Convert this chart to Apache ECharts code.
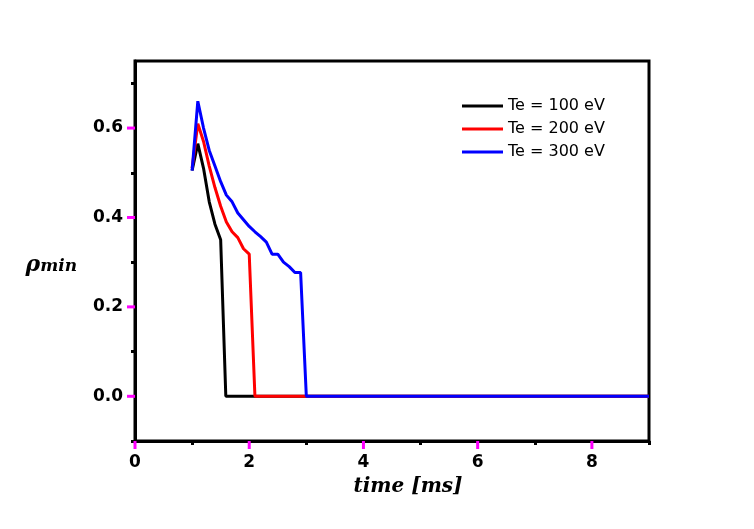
<!DOCTYPE html>
<html><head><meta charset="utf-8">
<script src="https://cdn.jsdelivr.net/npm/echarts@6/dist/echarts.min.js"></script>
<style>html,body{margin:0;padding:0;background:#fff}#c{width:754px;height:529px}</style>
</head><body><div id="c"></div>
<script>
const seriesNames = ['Te = 100 eV', 'Te = 200 eV', 'Te = 300 eV'];
const time100 = [1.0, 1.1, 1.2, 1.3, 1.4, 1.5, 1.59, 9.0];
const rho100  = [0.505, 0.565, 0.51, 0.435, 0.385, 0.35, 0.0, 0.0];
const time200 = [1.0, 1.1, 1.2, 1.3, 1.4, 1.5, 1.6, 1.7, 1.8, 1.9, 2.0, 2.1, 9.0];
const rho200  = [0.51, 0.61, 0.57, 0.515, 0.467, 0.425, 0.39, 0.368, 0.355, 0.33, 0.318, 0.0, 0.0];
const time300 = [1.0, 1.1, 1.2, 1.3, 1.4, 1.5, 1.6, 1.7, 1.8, 1.9, 2.0, 2.1, 2.2, 2.3, 2.4, 2.5, 2.6, 2.7, 2.8, 2.9, 3.0, 9.0];
const rho300  = [0.505, 0.66, 0.60, 0.55, 0.515, 0.48, 0.45, 0.435, 0.41, 0.395, 0.38, 0.368, 0.357, 0.345, 0.318, 0.318, 0.30, 0.29, 0.277, 0.277, 0.0, 0.0];
const xMajorTicks = [0, 2, 4, 6, 8];
const xMinorTicks = [1, 3, 5, 7, 9];
const yMajorTicks = [0, 0.2, 0.4, 0.6];
const yMinorTicks = [-0.1, 0.1, 0.3, 0.5, 0.7];
const colors = ['#000000', '#ff0000', '#0000ff'];

const zip = (xs, ys) => xs.map((x, i) => [x, ys[i]]);
const gridRect = {left: 135, right: 105, top: 61, bottom: 88};
const X_MIN = 0, X_MAX = 9, Y_MIN = -0.1, Y_MAX = 0.75;
const tick = () => ({color: '#000', width: 3});
const labelStyle = () => ({fontFamily: 'DejaVu Sans', fontWeight: 'bold', fontSize: 17, color: '#000'});
const serifBI = () => ({fontFamily: 'DejaVu Serif', fontStyle: 'italic', fontWeight: 'bold', color: '#000'});
const MAJOR_TICK_COLOR = '#ff00ff';

const chart = echarts.init(document.getElementById('c'), null, {renderer: 'canvas'});
chart.setOption({
  animation: false,
  backgroundColor: '#fff',
  grid: [
    Object.assign({show: true, borderColor: '#000', borderWidth: 3, backgroundColor: 'transparent'}, gridRect),
    Object.assign({show: false}, gridRect)
  ],
  legend: {
    orient: 'vertical', left: 462, top: 96, padding: 0, icon: 'rect', itemWidth: 41, itemHeight: 3, itemGap: 3,
    textStyle: {fontFamily: 'DejaVu Sans', fontSize: 16, color: '#000', lineHeight: 20},
    data: seriesNames
  },
  xAxis: [
    {
      type: 'value', gridIndex: 0, min: X_MIN, max: X_MAX, position: 'bottom',
      axisLine: {show: true, onZero: false, lineStyle: tick()},
      axisTick: {show: false},
      axisLabel: Object.assign({customValues: xMajorTicks.slice(), margin: 13}, labelStyle()),
      splitLine: {show: false},
      name: 'time [ms]', nameLocation: 'middle', nameGap: 36,
      nameTextStyle: Object.assign({fontSize: 20, padding: [0, 0, 0, 32]}, serifBI())
    },
    {
      type: 'value', gridIndex: 1, min: X_MIN, max: X_MAX, position: 'bottom',
      axisLine: {show: false, onZero: false},
      axisTick: {show: true, customValues: xMinorTicks.slice(), length: 4, lineStyle: tick()},
      axisLabel: {show: false}, splitLine: {show: false}
    }
  ],
  yAxis: [
    {
      type: 'value', gridIndex: 0, min: Y_MIN, max: Y_MAX, position: 'left',
      axisLine: {show: true, onZero: false, lineStyle: tick()},
      axisTick: {show: false},
      axisLabel: Object.assign({customValues: yMajorTicks.slice(), margin: 12, formatter: v => v.toFixed(1)}, labelStyle()),
      splitLine: {show: false},
      name: '{r|ρ}{s|min}', nameLocation: 'middle', nameRotate: 0, nameGap: 58,
      nameTextStyle: {padding: [28, 0, 0, 0], rich: {
        r: Object.assign({fontSize: 22}, serifBI()),
        s: Object.assign({fontSize: 17, padding: [4, 0, 0, 0]}, serifBI())
      }}
    },
    {
      type: 'value', gridIndex: 1, min: Y_MIN, max: Y_MAX, position: 'left',
      axisLine: {show: false, onZero: false},
      axisTick: {show: true, customValues: yMinorTicks.slice(), length: 4, lineStyle: tick()},
      axisLabel: {show: false}, splitLine: {show: false}
    }
  ],
  series: [
    {name: seriesNames[0], type: 'line', xAxisIndex: 0, yAxisIndex: 0, symbol: 'none', data: zip(time100, rho100), lineStyle: {color: colors[0], width: 3}, itemStyle: {color: colors[0]}},
    {name: seriesNames[1], type: 'line', xAxisIndex: 0, yAxisIndex: 0, symbol: 'none', data: zip(time200, rho200), lineStyle: {color: colors[1], width: 3}, itemStyle: {color: colors[1]}},
    {name: seriesNames[2], type: 'line', xAxisIndex: 0, yAxisIndex: 0, symbol: 'none', data: zip(time300, rho300), lineStyle: {color: colors[2], width: 3}, itemStyle: {color: colors[2]}}
  ]
});

// Major ticks placed through the chart's own scales
const majorTicks = [];
xMajorTicks.forEach(v => {
  const p = chart.convertToPixel({gridIndex: 0}, [v, Y_MIN]);
  majorTicks.push({type: 'line', z: 100, silent: true,
    shape: {x1: p[0], y1: p[1], x2: p[0], y2: p[1] + 8}, style: {stroke: MAJOR_TICK_COLOR, lineWidth: 3}});
});
yMajorTicks.forEach(v => {
  const p = chart.convertToPixel({gridIndex: 0}, [X_MIN, v]);
  majorTicks.push({type: 'line', z: 100, silent: true,
    shape: {x1: p[0] - 8, y1: p[1], x2: p[0], y2: p[1]}, style: {stroke: MAJOR_TICK_COLOR, lineWidth: 3}});
});
chart.setOption({graphic: majorTicks});
</script></body></html>
